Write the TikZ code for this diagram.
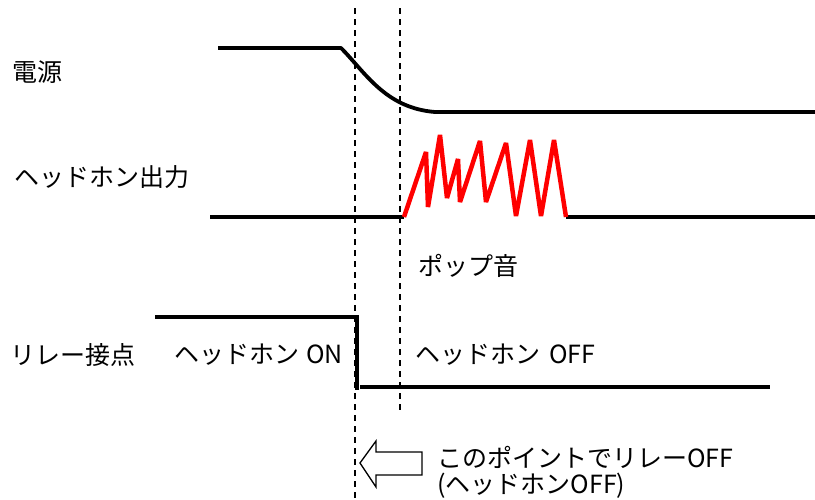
\documentclass[tikz,border=0pt]{standalone}
\usepackage{fontspec}
\setmainfont{Noto Sans CJK JP}
\begin{document}
\begin{tikzpicture}[x=1pt,y=-1pt,
  wave/.style={line width=3.8pt,line join=round},
  redwave/.style={line width=4.5pt,line join=miter,miter limit=3,draw=red},
  guide/.style={line width=1.3pt,dash pattern=on 6pt off 5pt},
  lbl/.style={font=\fontsize{25}{30}\selectfont,inner sep=0pt,anchor=west},
  hollow/.style={line width=1.3pt,line join=miter}]
\fill[white] (0,0) rectangle (815,499);
\useasboundingbox (0,0) rectangle (815,499);
% guides
\coordinate (g1t) at (355,8); \coordinate (g1b) at (355,499);
\coordinate (g2t) at (400,8); \coordinate (g2b) at (400,412);
\draw[guide] (g1t) -- (g1b);
\draw[guide] (g2t) -- (g2b);
% power
\coordinate (p0) at (218,48); \coordinate (p1) at (341,48);
\coordinate (p2) at (435,112); \coordinate (p3) at (815,112);
\draw[wave] (p0) -- (p1) .. controls (365,72) and (385,108) .. (p2) -- (p3);
% headphone output
\coordinate (h0) at (210,217); \coordinate (h1) at (404,217);
\coordinate (h2) at (566,217); \coordinate (h3) at (815,217);
\draw[wave] (h0) -- (h1);
\draw[wave] (h2) -- (h3);
\draw[redwave] (h1) -- (426,152) -- (428,207) -- (440,135) -- (447,198) -- (458,159)
  -- (460,202) -- (480,141) -- (486,202) -- (506,143) -- (516,216) -- (530,140)
  -- (541,216) -- (554,140) -- (h2);
% relay
\coordinate (r0) at (155,317); \coordinate (r1) at (357,317);
\coordinate (r2) at (357,390); \coordinate (r3) at (360,387); \coordinate (r4) at (770,387);
\draw[wave,line join=miter] (r0) -- (r1) -- (r2);
\draw[wave] (r3) -- (r4);
% labels
\node[lbl] (lpow) at (12,72) {電源};
\node[lbl] (lhp) at (14,177) {ヘッドホン出力};
\node[lbl] (lpop) at (418,266) {ポップ音};
\node[lbl] (lrel) at (10,355) {リレー接点};
\node[lbl] (lon) at (174,355) {ヘッドホン\kern7pt ON};
\node[lbl] (loff) at (415,355) {ヘッドホン\kern9pt OFF};
% arrow
\draw[hollow] (360,463) -- (376,441) -- (376,452) -- (422,452) -- (422,475)
  -- (376,475) -- (376,487) -- cycle;
\node[lbl] (n1) at (437,457) {このポイントでリレーOFF};
\node[lbl] (n2) at (437,486) {(ヘッドホンOFF)};
\end{tikzpicture}
\end{document}
